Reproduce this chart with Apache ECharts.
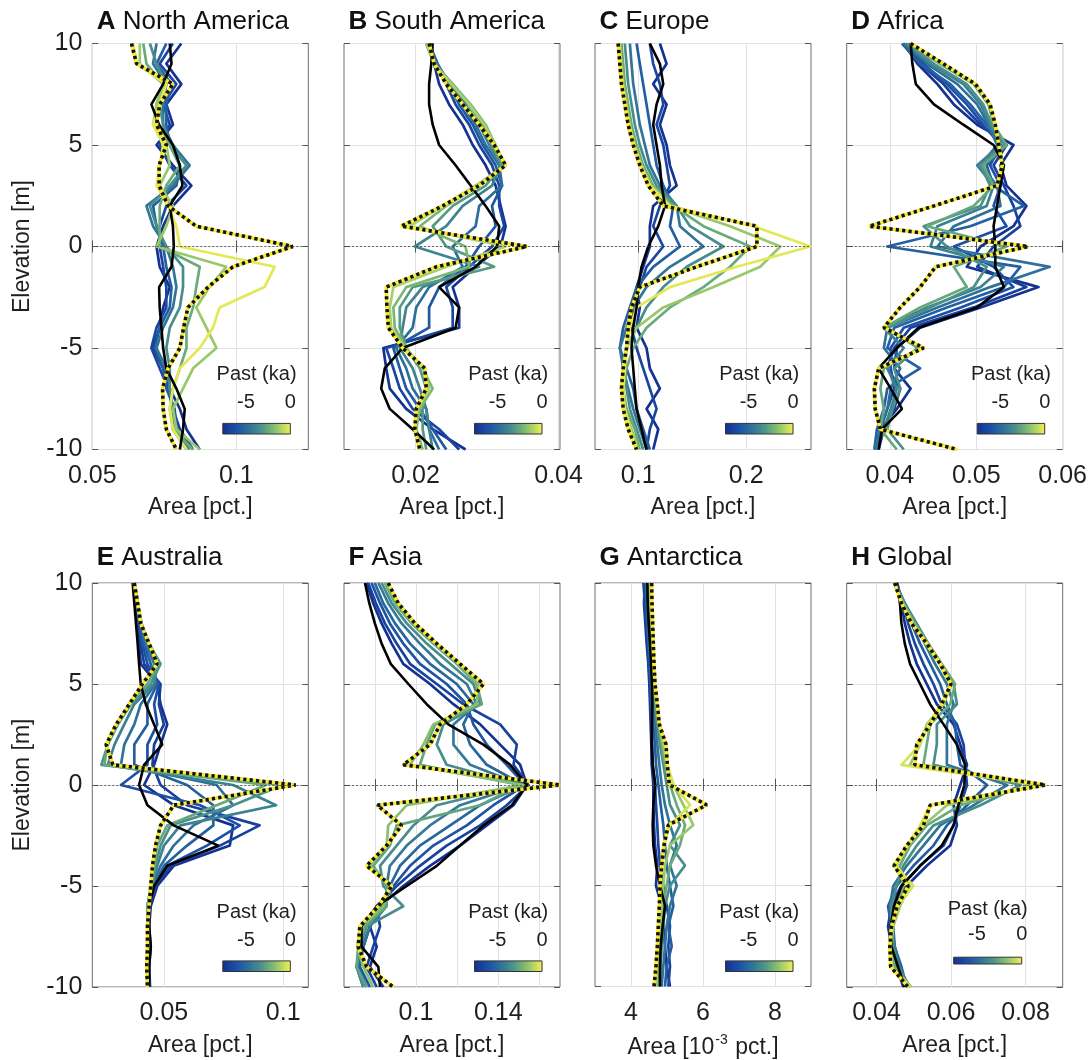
<!DOCTYPE html>
<html>
<head>
<meta charset="utf-8">
<script src="https://cdn.jsdelivr.net/npm/echarts@6/dist/echarts.min.js"></script>
<style>
html,body{margin:0;padding:0;background:#fff;}
#chart{width:1091px;height:1060px;}
</style>
</head>
<body>
<div id="chart"></div>
<script>
// ---------------- DATA ----------------
const elevation = [10,9,8,7,6,5,4,3,2,1,0,-1,-2,-3,-4,-5,-6,-7,-8,-9,-10];
const legendTitle = 'Past (ka)';
const legendTicks = [-5, 0];
const legendRange = [-7.6, 0];

// A North America
const naTimes = [-7.5,-6.5,-5.5,-4.5,-3.5,-2.5,-1.5,-0.3];
const naLines = [
[0.0809,0.0757,0.0809,0.0757,0.0780,0.0723,0.0780,0.0844,0.0780,0.0746,0.0723,0.0734,0.0769,0.0746,0.0734,0.0711,0.0746,0.0769,0.0804,0.0827,0.0873],
[0.0780,0.0734,0.0792,0.0746,0.0769,0.0734,0.0769,0.0827,0.0757,0.0734,0.0734,0.0746,0.0757,0.0757,0.0723,0.0705,0.0734,0.0763,0.0780,0.0804,0.0850],
[0.0757,0.0723,0.0775,0.0757,0.0757,0.0769,0.0804,0.0792,0.0711,0.0723,0.0746,0.0757,0.0775,0.0769,0.0734,0.0717,0.0746,0.0757,0.0786,0.0792,0.0827],
[0.0723,0.0711,0.0757,0.0746,0.0746,0.0780,0.0838,0.0780,0.0688,0.0711,0.0757,0.0780,0.0792,0.0780,0.0746,0.0723,0.0757,0.0769,0.0780,0.0780,0.0827],
[0.0700,0.0723,0.0757,0.0734,0.0746,0.0769,0.0827,0.0769,0.0700,0.0723,0.0757,0.0815,0.0815,0.0804,0.0769,0.0757,0.0769,0.0769,0.0780,0.0792,0.0838],
[0.0677,0.0688,0.0746,0.0723,0.0723,0.0769,0.0804,0.0757,0.0734,0.0734,0.0734,0.0873,0.0861,0.0850,0.0827,0.0827,0.0804,0.0780,0.0769,0.0780,0.0850],
[0.0665,0.0665,0.0746,0.0723,0.0711,0.0757,0.0769,0.0734,0.0780,0.0757,0.0723,0.0965,0.0907,0.0861,0.0896,0.0931,0.0850,0.0815,0.0780,0.0792,0.0873],
[0.0642,0.0654,0.0757,0.0734,0.0711,0.0746,0.0734,0.0723,0.0763,0.0792,0.0804,0.1133,0.1098,0.0942,0.0919,0.0873,0.0804,0.0780,0.0769,0.0780,0.0827]
];
const naBlack  = [0.0769,0.0775,0.0746,0.0705,0.0732,0.0780,0.0804,0.0813,0.0769,0.0780,0.0783,0.0775,0.0732,0.0734,0.0740,0.0746,0.0757,0.0792,0.0821,0.0815,0.0804];
const naDotted = [0.0636,0.0654,0.0780,0.0734,0.0723,0.0757,0.0732,0.0732,0.0763,0.0861,0.1196,0.0988,0.0902,0.0832,0.0817,0.0804,0.0763,0.0744,0.0746,0.0757,0.0792];
const naTicks = [0.05, 0.1];
const naLabels = [0.05, 0.1];

// B South America
const saTimes = [-7.5,-6.6,-5.7,-4.8,-3.9,-3.0,-2.1,-1.2];
const saLines = [
[0.0222,0.0226,0.0233,0.0247,0.0266,0.0280,0.0298,0.0312,0.0319,0.0326,0.0319,0.0284,0.0252,0.0261,0.0261,0.0155,0.0159,0.0164,0.0187,0.0224,0.0270],
[0.0219,0.0229,0.0243,0.0256,0.0275,0.0289,0.0307,0.0317,0.0317,0.0324,0.0307,0.0275,0.0243,0.0252,0.0252,0.0159,0.0169,0.0178,0.0196,0.0233,0.0261],
[0.0219,0.0231,0.0247,0.0261,0.0280,0.0294,0.0312,0.0321,0.0307,0.0312,0.0289,0.0270,0.0233,0.0219,0.0219,0.0169,0.0178,0.0187,0.0206,0.0224,0.0243],
[0.0217,0.0229,0.0247,0.0266,0.0284,0.0298,0.0317,0.0321,0.0289,0.0284,0.0252,0.0266,0.0219,0.0201,0.0196,0.0173,0.0187,0.0196,0.0215,0.0219,0.0233],
[0.0217,0.0229,0.0250,0.0270,0.0289,0.0303,0.0319,0.0307,0.0266,0.0243,0.0199,0.0289,0.0210,0.0187,0.0182,0.0178,0.0196,0.0206,0.0215,0.0219,0.0224],
[0.0215,0.0226,0.0252,0.0275,0.0294,0.0307,0.0321,0.0298,0.0252,0.0224,0.0243,0.0310,0.0196,0.0178,0.0178,0.0187,0.0206,0.0215,0.0210,0.0210,0.0215],
[0.0215,0.0226,0.0252,0.0277,0.0298,0.0312,0.0324,0.0289,0.0243,0.0206,0.0270,0.0275,0.0187,0.0169,0.0171,0.0187,0.0210,0.0224,0.0206,0.0201,0.0210],
[0.0216,0.0226,0.0250,0.0275,0.0296,0.0312,0.0326,0.0284,0.0238,0.0192,0.0326,0.0243,0.0169,0.0164,0.0166,0.0185,0.0213,0.0219,0.0203,0.0199,0.0206]
];
const saBlack  = [0.0224,0.0222,0.0219,0.0219,0.0224,0.0233,0.0256,0.0277,0.0298,0.0317,0.0314,0.0284,0.0233,0.0261,0.0256,0.0182,0.0157,0.0152,0.0164,0.0196,0.0226];
const saDotted = [0.0219,0.0226,0.0243,0.0266,0.0289,0.0310,0.0326,0.0289,0.0238,0.0180,0.0356,0.0229,0.0159,0.0160,0.0162,0.0182,0.0213,0.0215,0.0201,0.0199,0.0206];
const saTicks = [0.02, 0.04];
const saLabels = [0.02, 0.04];

// C Europe
const euTimes = [-7.5,-6.5,-5.5,-4.5,-3.5,-2.5,-1.5,-0.3];
const euLines = [
[0.1201,0.1263,0.1139,0.1263,0.1201,0.1263,0.1294,0.1356,0.1139,0.1108,0.1108,0.1046,0.0985,0.1015,0.0985,0.1077,0.1108,0.1201,0.1077,0.1186,0.1139],
[0.1108,0.1139,0.1201,0.1232,0.1170,0.1232,0.1263,0.1294,0.1201,0.1139,0.1232,0.1077,0.1015,0.0954,0.0938,0.0985,0.1046,0.1108,0.1170,0.1108,0.1077],
[0.0985,0.1015,0.1046,0.1077,0.1108,0.1139,0.1170,0.1232,0.1325,0.1294,0.1387,0.1139,0.0985,0.0923,0.0861,0.0830,0.0892,0.0954,0.0985,0.1046,0.1108],
[0.0923,0.0938,0.0954,0.0985,0.1015,0.1062,0.1108,0.1201,0.1356,0.1387,0.1604,0.1294,0.1077,0.0954,0.0892,0.0830,0.0861,0.0907,0.0954,0.1015,0.1077],
[0.0876,0.0892,0.0907,0.0938,0.0969,0.1015,0.1077,0.1170,0.1356,0.1480,0.1789,0.1449,0.1232,0.1077,0.0985,0.0892,0.0876,0.0892,0.0923,0.0985,0.1046],
[0.0845,0.0861,0.0876,0.0907,0.0938,0.0985,0.1046,0.1139,0.1325,0.1604,0.2037,0.1851,0.1604,0.1294,0.1077,0.0954,0.0892,0.0861,0.0892,0.0969,0.1015],
[0.0830,0.0845,0.0861,0.0892,0.0923,0.0969,0.1031,0.1124,0.1294,0.1851,0.2316,0.2130,0.1697,0.1232,0.0985,0.0892,0.0861,0.0845,0.0876,0.0938,0.1000],
[0.0824,0.0836,0.0854,0.0885,0.0916,0.0960,0.1022,0.1108,0.1294,0.2068,0.2594,0.1913,0.1294,0.0985,0.0923,0.0892,0.0876,0.0861,0.0876,0.0923,0.0985]
];
const euBlack  = [0.1108,0.1201,0.1232,0.1170,0.1139,0.1170,0.1201,0.1217,0.1248,0.1186,0.1093,0.1031,0.1000,0.0985,0.0954,0.0938,0.0954,0.0969,0.0985,0.1031,0.1077];
const euDotted = [0.0814,0.0830,0.0845,0.0876,0.0907,0.0954,0.1015,0.1093,0.1232,0.2099,0.2099,0.1542,0.1015,0.0938,0.0907,0.0892,0.0861,0.0845,0.0861,0.0907,0.0985];
const euTicks = [0.1, 0.2];
const euLabels = [0.1, 0.2];

// D Africa
const afTimes = [-7.5,-6.8,-6.1,-5.4,-4.7,-4.0,-3.3,-2.6];
const afLines = [
[0.0416,0.0432,0.0455,0.0474,0.0501,0.0543,0.0528,0.0535,0.0558,0.0543,0.0505,0.0489,0.0572,0.0505,0.0435,0.0408,0.0405,0.0424,0.0408,0.0389,0.0385],
[0.0418,0.0435,0.0462,0.0482,0.0505,0.0535,0.0520,0.0532,0.0543,0.0551,0.0520,0.0501,0.0558,0.0497,0.0424,0.0405,0.0397,0.0412,0.0405,0.0393,0.0387],
[0.0420,0.0439,0.0466,0.0489,0.0508,0.0528,0.0516,0.0528,0.0520,0.0535,0.0474,0.0520,0.0543,0.0482,0.0416,0.0401,0.0401,0.0405,0.0397,0.0389,0.0383],
[0.0414,0.0435,0.0470,0.0493,0.0512,0.0535,0.0512,0.0520,0.0555,0.0493,0.0397,0.0551,0.0532,0.0466,0.0405,0.0397,0.0435,0.0397,0.0393,0.0385,0.0382],
[0.0416,0.0443,0.0478,0.0501,0.0514,0.0524,0.0505,0.0524,0.0528,0.0474,0.0455,0.0585,0.0516,0.0455,0.0397,0.0393,0.0412,0.0401,0.0397,0.0389,0.0382],
[0.0418,0.0447,0.0485,0.0505,0.0516,0.0528,0.0501,0.0520,0.0512,0.0455,0.0447,0.0532,0.0505,0.0443,0.0393,0.0416,0.0397,0.0408,0.0401,0.0393,0.0385],
[0.0420,0.0451,0.0489,0.0508,0.0518,0.0532,0.0505,0.0516,0.0505,0.0439,0.0466,0.0512,0.0497,0.0447,0.0397,0.0432,0.0405,0.0412,0.0403,0.0397,0.0416],
[0.0422,0.0458,0.0497,0.0514,0.0520,0.0535,0.0508,0.0520,0.0497,0.0443,0.0535,0.0474,0.0489,0.0435,0.0393,0.0435,0.0393,0.0389,0.0393,0.0389,0.0408]
];
const afBlack  = [0.0424,0.0426,0.0430,0.0451,0.0485,0.0520,0.0532,0.0528,0.0524,0.0520,0.0522,0.0522,0.0532,0.0501,0.0433,0.0408,0.0387,0.0401,0.0414,0.0391,0.0387];
const afDotted = [0.0424,0.0462,0.0499,0.0516,0.0522,0.0526,0.0530,0.0524,0.0451,0.0376,0.0560,0.0453,0.0435,0.0412,0.0393,0.0439,0.0387,0.0382,0.0383,0.0389,0.0478];
const afTicks = [0.04, 0.05, 0.06];
const afLabels = [0.04, 0.05, 0.06];

// E Australia
const auTimes = [-7.5,-6.8,-6.1,-5.4,-4.7,-4.0,-3.3,-2.6];
const auLines = [
[0.0376,0.0383,0.0390,0.0396,0.0403,0.0472,0.0486,0.0514,0.0486,0.0459,0.0417,0.0541,0.0790,0.0776,0.0541,0.0472,0.0445,0.0438,0.0445,0.0438,0.0442],
[0.0376,0.0383,0.0390,0.0403,0.0417,0.0486,0.0479,0.0500,0.0459,0.0452,0.0486,0.0597,0.0901,0.0735,0.0528,0.0465,0.0438,0.0438,0.0442,0.0438,0.0438],
[0.0376,0.0387,0.0396,0.0410,0.0431,0.0479,0.0459,0.0472,0.0431,0.0431,0.0320,0.0652,0.0818,0.0680,0.0514,0.0459,0.0438,0.0431,0.0438,0.0434,0.0438],
[0.0376,0.0390,0.0403,0.0417,0.0445,0.0472,0.0431,0.0431,0.0376,0.0376,0.0597,0.0707,0.0707,0.0597,0.0500,0.0459,0.0438,0.0434,0.0438,0.0431,0.0435],
[0.0376,0.0390,0.0403,0.0424,0.0459,0.0465,0.0403,0.0376,0.0334,0.0320,0.0721,0.0790,0.0624,0.0541,0.0486,0.0452,0.0431,0.0431,0.0438,0.0431,0.0434],
[0.0376,0.0390,0.0406,0.0431,0.0472,0.0459,0.0376,0.0334,0.0293,0.0265,0.0790,0.0970,0.0569,0.0500,0.0472,0.0452,0.0431,0.0431,0.0438,0.0431,0.0434],
[0.0376,0.0390,0.0406,0.0438,0.0486,0.0445,0.0362,0.0307,0.0265,0.0238,0.0997,0.0790,0.0528,0.0486,0.0465,0.0448,0.0431,0.0431,0.0434,0.0431,0.0434],
[0.0376,0.0390,0.0403,0.0438,0.0479,0.0431,0.0355,0.0300,0.0262,0.0251,0.0928,0.0721,0.0514,0.0472,0.0459,0.0445,0.0431,0.0431,0.0431,0.0431,0.0431]
];
const auBlack  = [0.0369,0.0376,0.0383,0.0390,0.0396,0.0403,0.0424,0.0459,0.0493,0.0417,0.0396,0.0431,0.0541,0.0728,0.0514,0.0459,0.0438,0.0438,0.0445,0.0438,0.0438];
const auDotted = [0.0376,0.0390,0.0403,0.0438,0.0472,0.0410,0.0355,0.0300,0.0258,0.0286,0.1052,0.0541,0.0486,0.0465,0.0452,0.0445,0.0438,0.0431,0.0431,0.0428,0.0431];
const auTicks = [0.05, 0.1];
const auLabels = [0.05, 0.1];

// F Asia
const asTimes = [-7.5,-6.7,-5.9,-5.1,-4.3,-3.5,-2.7,-1.8];
const asLines = [
[0.0760,0.0792,0.0833,0.0882,0.0938,0.1068,0.1182,0.1312,0.1409,0.1506,0.1539,0.1474,0.1344,0.1214,0.1068,0.0938,0.0825,0.0776,0.0809,0.0776,0.0841],
[0.0768,0.0805,0.0849,0.0906,0.0971,0.1101,0.1230,0.1409,0.1490,0.1474,0.1547,0.1441,0.1312,0.1149,0.1019,0.0906,0.0809,0.0825,0.0792,0.0760,0.0809],
[0.0784,0.0825,0.0873,0.0938,0.1019,0.1149,0.1247,0.1279,0.1344,0.1441,0.1531,0.1376,0.1247,0.1084,0.0971,0.0890,0.0825,0.0776,0.0744,0.0727,0.0776],
[0.0800,0.0841,0.0898,0.0971,0.1068,0.1198,0.1279,0.1230,0.1263,0.1344,0.1523,0.1312,0.1166,0.1019,0.0922,0.0873,0.0841,0.0776,0.0744,0.0719,0.0760],
[0.0817,0.0865,0.0930,0.1019,0.1117,0.1247,0.1295,0.1182,0.1182,0.1263,0.1514,0.1214,0.1068,0.0955,0.0873,0.0857,0.0857,0.0776,0.0735,0.0711,0.0744],
[0.0833,0.0882,0.0955,0.1052,0.1166,0.1279,0.1312,0.1133,0.1101,0.1149,0.1506,0.1101,0.0987,0.0906,0.0825,0.0841,0.0938,0.0760,0.0727,0.0711,0.0744],
[0.0849,0.0898,0.0979,0.1084,0.1198,0.1295,0.1320,0.1093,0.1052,0.1019,0.1506,0.1312,0.0906,0.0873,0.0792,0.0857,0.0857,0.0752,0.0719,0.0711,0.0760],
[0.0857,0.0906,0.0987,0.1093,0.1206,0.1303,0.1295,0.1084,0.1036,0.0971,0.1523,0.0955,0.0865,0.0857,0.0776,0.0873,0.0841,0.0735,0.0714,0.0744,0.0792]
];
const asBlack  = [0.0752,0.0773,0.0800,0.0833,0.0877,0.0963,0.1052,0.1157,0.1328,0.1458,0.1539,0.1466,0.1328,0.1214,0.1101,0.0955,0.0809,0.0735,0.0735,0.0817,0.0825];
const asDotted = [0.0865,0.0914,0.0995,0.1101,0.1214,0.1328,0.1247,0.1117,0.1068,0.0938,0.1701,0.0812,0.0930,0.0857,0.0760,0.0882,0.0817,0.0727,0.0719,0.0760,0.0890];
const asTicks = [0.08, 0.1, 0.12, 0.14, 0.16];
const asLabels = [0.1, 0.14];

// G Antarctica (10^-3 pct.)
const anTimes = [-7.5,-6.5,-5.5,-4.5,-3.5,-2.5,-1.5,-0.5];
const anLines = [
[4.389,4.361,4.398,4.435,4.481,4.509,4.528,4.546,4.565,4.574,4.620,4.620,4.639,4.667,4.731,4.694,4.852,4.898,4.944,4.991,5.083],
[4.343,4.389,4.417,4.454,4.491,4.528,4.546,4.574,4.593,4.602,4.667,4.694,4.731,4.759,4.806,4.898,4.991,5.083,5.037,5.083,5.037],
[4.417,4.435,4.463,4.491,4.528,4.556,4.583,4.620,4.667,4.694,4.759,4.824,4.898,4.944,4.991,5.083,5.176,5.037,5.130,4.991,4.944],
[4.435,4.454,4.481,4.509,4.546,4.583,4.620,4.676,4.731,4.787,4.852,4.944,5.083,5.269,5.083,5.269,5.083,4.991,4.944,4.898,4.852],
[4.481,4.500,4.528,4.556,4.583,4.620,4.657,4.731,4.806,4.898,4.991,5.083,5.361,5.083,5.500,5.083,4.944,4.898,4.852,4.824,4.806],
[4.509,4.528,4.556,4.583,4.611,4.639,4.694,4.769,4.852,4.944,5.083,5.269,5.500,5.361,5.083,4.991,4.898,4.852,4.806,4.787,4.759],
[4.528,4.546,4.574,4.602,4.620,4.657,4.713,4.787,4.898,4.991,5.176,5.454,5.731,5.083,4.944,4.898,4.852,4.806,4.759,4.731,4.694],
[4.556,4.565,4.593,4.611,4.630,4.667,4.731,4.787,4.944,5.009,5.176,5.639,5.083,4.898,4.852,4.806,4.787,4.759,4.731,4.694,4.639]
];
const anBlack  = [4.454,4.463,4.491,4.528,4.556,4.583,4.593,4.583,4.574,4.602,4.676,4.620,4.602,4.620,4.694,4.806,4.944,4.880,4.824,4.806,4.806];
const anDotted = [4.574,4.583,4.602,4.620,4.639,4.667,4.731,4.787,4.972,5.009,5.065,6.102,5.037,4.917,4.852,4.806,4.787,4.759,4.731,4.694,4.639];
const anTicks = [4, 6, 8];
const anLabels = [4, 6, 8];

// H Global
const glTimes = [-7.5,-6.5,-5.5,-4.5,-3.5,-2.5,-1.5,-0.5];
const glLines = [
[0.0456,0.0467,0.0476,0.0490,0.0508,0.0535,0.0562,0.0607,0.0625,0.0643,0.0625,0.0607,0.0616,0.0598,0.0535,0.0481,0.0440,0.0431,0.0440,0.0454,0.0472],
[0.0454,0.0472,0.0485,0.0503,0.0526,0.0553,0.0575,0.0616,0.0634,0.0638,0.0643,0.0625,0.0607,0.0580,0.0517,0.0467,0.0436,0.0436,0.0445,0.0463,0.0476],
[0.0452,0.0474,0.0494,0.0517,0.0544,0.0571,0.0589,0.0611,0.0616,0.0625,0.0697,0.0643,0.0589,0.0553,0.0499,0.0454,0.0431,0.0440,0.0449,0.0467,0.0481],
[0.0450,0.0476,0.0503,0.0530,0.0557,0.0589,0.0607,0.0589,0.0589,0.0589,0.0751,0.0661,0.0571,0.0526,0.0481,0.0445,0.0436,0.0445,0.0449,0.0463,0.0485],
[0.0449,0.0476,0.0508,0.0539,0.0571,0.0607,0.0616,0.0562,0.0562,0.0553,0.0787,0.0679,0.0553,0.0508,0.0472,0.0454,0.0440,0.0440,0.0445,0.0458,0.0490],
[0.0447,0.0472,0.0503,0.0539,0.0575,0.0611,0.0598,0.0544,0.0535,0.0526,0.0822,0.0625,0.0535,0.0490,0.0463,0.0472,0.0454,0.0440,0.0440,0.0449,0.0490],
[0.0447,0.0470,0.0499,0.0535,0.0571,0.0602,0.0580,0.0535,0.0517,0.0490,0.0831,0.0589,0.0526,0.0485,0.0454,0.0490,0.0463,0.0445,0.0440,0.0440,0.0494],
[0.0449,0.0467,0.0494,0.0533,0.0569,0.0598,0.0575,0.0539,0.0517,0.0467,0.0840,0.0544,0.0517,0.0483,0.0452,0.0499,0.0458,0.0440,0.0436,0.0440,0.0490]
];
const glBlack  = [0.0454,0.0463,0.0467,0.0476,0.0490,0.0517,0.0544,0.0580,0.0616,0.0638,0.0636,0.0620,0.0607,0.0575,0.0517,0.0467,0.0447,0.0438,0.0440,0.0458,0.0476];
const glDotted = [0.0449,0.0467,0.0494,0.0535,0.0571,0.0600,0.0575,0.0544,0.0508,0.0503,0.0854,0.0544,0.0526,0.0481,0.0447,0.0485,0.0456,0.0440,0.0436,0.0438,0.0485];
const glTicks = [0.04, 0.06, 0.08];
const glLabels = [0.04, 0.06, 0.08];

// ---------------- LAYOUT / STYLE ----------------
const FONT = '"Liberation Sans", Arial, Helvetica, sans-serif';
const TXT = '#1f1f1f';
const panels = [
  {label:'A', name:'North America', times:naTimes, lines:naLines, black:naBlack, dotted:naDotted, ticks:naTicks, labels:naLabels, xMin:0.05, xMax:0.125, xName:'Area [pct.]'},
  {label:'B', name:'South America', times:saTimes, lines:saLines, black:saBlack, dotted:saDotted, ticks:saTicks, labels:saLabels, xMin:0.01, xMax:0.0402, xName:'Area [pct.]'},
  {label:'C', name:'Europe', times:euTimes, lines:euLines, black:euBlack, dotted:euDotted, ticks:euTicks, labels:euLabels, xMin:0.06, xMax:0.26, xName:'Area [pct.]'},
  {label:'D', name:'Africa', times:afTimes, lines:afLines, black:afBlack, dotted:afDotted, ticks:afTicks, labels:afLabels, xMin:0.035, xMax:0.06, xName:'Area [pct.]'},
  {label:'E', name:'Australia', times:auTimes, lines:auLines, black:auBlack, dotted:auDotted, ticks:auTicks, labels:auLabels, xMin:0.02, xMax:0.1105, xName:'Area [pct.]'},
  {label:'F', name:'Asia', times:asTimes, lines:asLines, black:asBlack, dotted:asDotted, ticks:asTicks, labels:asLabels, xMin:0.065, xMax:0.17, xName:'Area [pct.]'},
  {label:'G', name:'Antarctica', times:anTimes, lines:anLines, black:anBlack, dotted:anDotted, ticks:anTicks, labels:anLabels, xMin:3, xMax:9, xName:'Area [10{sup|-3} pct.]'},
  {label:'H', name:'Global', times:glTimes, lines:glLines, black:glBlack, dotted:glDotted, ticks:glTicks, labels:glLabels, xMin:0.032, xMax:0.09, xName:'Area [pct.]'}
];
const colLeft = [92.3, 344, 595, 846.7];
const rowTop = [43.5, 583];
const rowH = [406, 404];
const plotW = 216;

const cbStops = [[0,'#13308f'],[0.2,'#1c4fa8'],[0.4,'#2f7499'],[0.58,'#4f9488'],[0.76,'#86bf6e'],[0.9,'#c2dc62'],[1,'#f8ef4e']];
function hexToRgb(h){return [parseInt(h.slice(1,3),16),parseInt(h.slice(3,5),16),parseInt(h.slice(5,7),16)];}
function colorAt(t){
  let f = (t - legendRange[0]) / (legendRange[1] - legendRange[0]);
  f = Math.max(0, Math.min(1, f));
  for (let i = 1; i < cbStops.length; i++) {
    if (f <= cbStops[i][0]) {
      const a = cbStops[i-1], b = cbStops[i];
      const u = (f - a[0]) / (b[0] - a[0]);
      const ca = hexToRgb(a[1]), cb = hexToRgb(b[1]);
      return 'rgb(' + ca.map((c,k)=>Math.round(c + (cb[k]-c)*u)).join(',') + ')';
    }
  }
  return cbStops[cbStops.length-1][1];
}

const grids = [], xAxes = [], yAxes = [], series = [], titles = [], graphics = [];

panels.forEach((p, i) => {
  const col = i % 4, row = Math.floor(i / 4);
  const L = colLeft[col], T = rowTop[row], H = rowH[row];
  const R = L + plotW, B = T + H;
  grids.push({left:L, top:T, width:plotW, height:H, show:true, borderColor:'#6e6e6e', borderWidth:1, backgroundColor:'#fff'});

  const fmt = v => String(+(+v).toFixed(4));
  xAxes.push({
    type:'value', gridIndex:i, position:'bottom', min:p.xMin, max:p.xMax,
    axisLine:{show:false},
    axisTick:{show:true, inside:true, length:6, lineStyle:{color:'#555', width:1}, customValues:p.ticks},
    axisLabel:{show:true, customValues:p.labels, fontSize:25, color:TXT, fontFamily:FONT, margin:14, formatter:fmt},
    splitLine:{show:true, lineStyle:{color:'#e2e2e2', width:1}},
    name:p.xName, nameLocation:'middle', nameGap:47,
    nameTextStyle:{fontSize:23, color:TXT, fontFamily:FONT, rich:{sup:{fontSize:14, fontFamily:FONT, color:TXT, padding:[0,1,14,1]}}}
  });
  xAxes.push({
    type:'value', gridIndex:i, position:'top', min:p.xMin, max:p.xMax,
    axisLine:{show:false},
    axisTick:{show:true, inside:true, length:6, lineStyle:{color:'#555', width:1}, customValues:p.ticks},
    axisLabel:{show:false}, splitLine:{show:false}
  });
  yAxes.push({
    type:'value', gridIndex:i, position:'left', min:-10, max:10, interval:5,
    axisLine:{show:false},
    axisTick:{show:true, inside:true, length:6, lineStyle:{color:'#555', width:1}},
    axisLabel:{show: col === 0, fontSize:25, color:TXT, fontFamily:FONT, margin:10},
    splitLine:{show:true, lineStyle:{color:'#e2e2e2', width:1}},
    name: col === 0 ? 'Elevation [m]' : '', nameLocation:'middle', nameGap:58,
    nameTextStyle:{fontSize:23, color:TXT, fontFamily:FONT}
  });
  yAxes.push({
    type:'value', gridIndex:i, position:'right', min:-10, max:10, interval:5,
    axisLine:{show:false},
    axisTick:{show:true, inside:true, length:6, lineStyle:{color:'#555', width:1}},
    axisLabel:{show:false}, splitLine:{show:false}
  });

  const xi = 2*i, yi = 2*i;
  p.lines.forEach((vals, k) => {
    const s = {
      type:'line', xAxisIndex:xi, yAxisIndex:yi, symbol:'none', silent:true,
      data: elevation.map((e, j) => [vals[j], e]),
      lineStyle:{width:2.7, color:colorAt(p.times[k]), join:'round'}
    };
    if (k === 0) {
      s.markLine = {silent:true, symbol:['none','none'], label:{show:false},
        lineStyle:{color:'#444', type:[2,2], width:0.8}, data:[{yAxis:0}]};
    }
    series.push(s);
  });
  series.push({type:'line', xAxisIndex:xi, yAxisIndex:yi, symbol:'none', silent:true,
    data: elevation.map((e, j) => [p.black[j], e]), lineStyle:{width:2.6, color:'#000'}});
  series.push({type:'line', xAxisIndex:xi, yAxisIndex:yi, symbol:'none', silent:true,
    data: elevation.map((e, j) => [p.dotted[j], e]), lineStyle:{width:3.6, color:'#f5ea2c'}});
  series.push({type:'line', xAxisIndex:xi, yAxisIndex:yi, symbol:'none', silent:true,
    data: elevation.map((e, j) => [p.dotted[j], e]), lineStyle:{width:3.6, color:'#111', type:[3.2,3.2], cap:'butt'}});

  titles.push({
    text:'{b|' + p.label + '} ' + p.name, left:L + 4.5, top: row === 0 ? 9 : 545, padding:0,
    textStyle:{fontSize:26, fontWeight:'normal', color:'#111', fontFamily:FONT,
      rich:{b:{fontSize:26, fontWeight:'bold', color:'#111', fontFamily:FONT}}}
  });

  // colorbar legend (inside, lower-right)
  const isH = (i === 7);
  const bw = isH ? 68 : 67.5, bh = isH ? 6.8 : 10.6;
  const bx = R - (isH ? 41 : 18) - bw;
  const by = B - (isH ? 23 : 15.5) - bh;
  const titleY = B - (isH ? 78 : 75);
  const tickY = B - (isH ? 53 : 47);
  const stops = cbStops.map(s => ({offset:s[0], color:s[1]}));
  graphics.push({type:'rect', silent:true, z:100, shape:{x:bx, y:by, width:bw, height:bh},
    style:{fill:new echarts.graphic.LinearGradient(0,0,1,0,stops), stroke:'#333', lineWidth:1}});
  graphics.push({type:'text', silent:true, z:100, x:bx + bw/2, y:titleY,
    style:{text:legendTitle, font:'20px ' + FONT, fill:TXT, align:'center', verticalAlign:'middle', textAlign:'center', textVerticalAlign:'middle'}});
  legendTicks.forEach(tv => {
    const tx = bx + (tv - legendRange[0]) / (legendRange[1] - legendRange[0]) * bw;
    graphics.push({type:'text', silent:true, z:100, x:tx, y:tickY,
      style:{text:String(tv), font:'20px ' + FONT, fill:TXT, align:'center', verticalAlign:'middle', textAlign:'center', textVerticalAlign:'middle'}});
  });
});

const chart = echarts.init(document.getElementById('chart'), null, {renderer:'canvas'});
chart.setOption({
  backgroundColor:'#fff',
  animation:false,
  title:titles,
  grid:grids,
  xAxis:xAxes,
  yAxis:yAxes,
  series:series,
  graphic:graphics
});
</script>
</body>
</html>
